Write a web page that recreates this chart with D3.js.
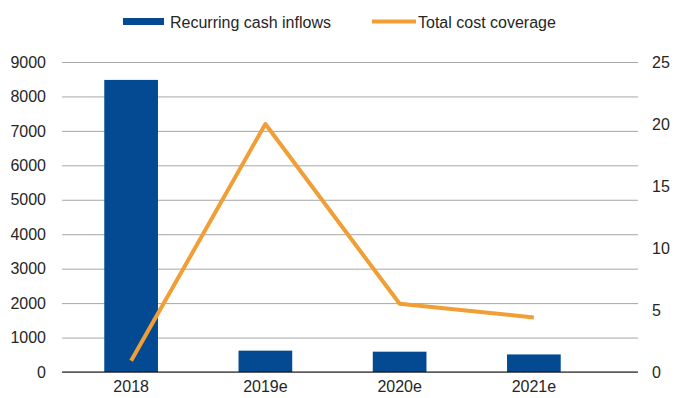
<!DOCTYPE html>
<html>
<head>
<meta charset="utf-8">
<script src="https://cdn.jsdelivr.net/npm/d3@7"></script>
<style>
  body { margin: 0; background: #fff; }
  text { font-family: 'Liberation Sans', Arial, sans-serif; }
</style>
</head>
<body>
<div id="root"></div>
<script>
const years = ['2018', '2019e', '2020e', '2021e']
const cashInflows = [8480, 620, 590, 510]
const costCoverage = [0.9, 20, 5.5, 4.4]
const leftTicks = [0, 1000, 2000, 3000, 4000, 5000, 6000, 7000, 8000, 9000]
const rightTicks = [0, 5, 10, 15, 20, 25]

const width = 678
const height = 398
const plot = { left: 62, right: 638, top: 62, bottom: 372 }
const fontSize = '16px'
const textColor = '#262626'

const svg = d3.select('#root').append('svg')
  .attr('width', width)
  .attr('height', height)

const xScale = d3.scaleBand()
  .domain(years)
  .range([64, 601])
  .paddingInner(0.6)
  .paddingOuter(0.3)

const yLeft = d3.scaleLinear()
  .domain([0, 9000])
  .range([plot.bottom, plot.top])

const yRight = d3.scaleLinear()
  .domain([0, 25])
  .range([plot.bottom, plot.top])

// gridlines from the left axis
const leftAxis = svg.append('g')
  .attr('transform', `translate(${plot.left}, 0)`)
  .call(d3.axisLeft(yLeft).tickValues(leftTicks).tickFormat(d3.format('d'))
    .tickSize(-(plot.right - plot.left)).tickPadding(16))
leftAxis.select('.domain').remove()
leftAxis.selectAll('.tick line').attr('stroke', '#a6a6a6').attr('stroke-width', 1)
leftAxis.selectAll('.tick text')
  .attr('fill', textColor)
  .style('font-size', fontSize)

const rightAxis = svg.append('g')
  .attr('transform', `translate(${plot.right}, 0)`)
  .call(d3.axisRight(yRight).tickValues(rightTicks).tickSize(0).tickPadding(14))
rightAxis.select('.domain').remove()
rightAxis.selectAll('.tick text')
  .attr('fill', textColor)
  .style('font-size', fontSize)

// bars
svg.append('g').selectAll('rect')
  .data(years.map((y, i) => ({ year: y, value: cashInflows[i] })))
  .join('rect')
  .attr('x', d => xScale(d.year))
  .attr('y', d => yLeft(d.value))
  .attr('width', xScale.bandwidth())
  .attr('height', d => yLeft(0) - yLeft(d.value))
  .attr('fill', '#034a92')

// baseline
svg.append('line')
  .attr('x1', plot.left)
  .attr('x2', plot.right)
  .attr('y1', yLeft(0))
  .attr('y2', yLeft(0))
  .attr('stroke', '#111')
  .attr('stroke-width', 1.2)

// x axis labels
const xAxis = svg.append('g')
  .attr('transform', `translate(0, ${plot.bottom})`)
  .call(d3.axisBottom(xScale).tickSize(0).tickPadding(9))
xAxis.select('.domain').remove()
xAxis.selectAll('.tick text')
  .attr('fill', textColor)
  .style('font-size', fontSize)

// line
const line = d3.line()
  .x((d, i) => xScale(years[i]) + xScale.bandwidth() / 2)
  .y(d => yRight(d))

svg.append('path')
  .datum(costCoverage)
  .attr('d', line)
  .attr('fill', 'none')
  .attr('stroke', '#f09e35')
  .attr('stroke-width', 4)
  .attr('stroke-linejoin', 'round')

// legend
const legend = svg.append('g')
legend.append('rect')
  .attr('x', 123).attr('y', 18)
  .attr('width', 41).attr('height', 7)
  .attr('fill', '#034a92')
legend.append('text')
  .attr('x', 170).attr('y', 28)
  .style('font-size', fontSize)
  .attr('fill', textColor)
  .text('Recurring cash inflows')
legend.append('line')
  .attr('x1', 372).attr('x2', 416)
  .attr('y1', 21.5).attr('y2', 21.5)
  .attr('stroke', '#f09e35')
  .attr('stroke-width', 4)
legend.append('text')
  .attr('x', 418).attr('y', 28)
  .style('font-size', fontSize)
  .attr('fill', textColor)
  .text('Total cost coverage')
</script>
</body>
</html>
